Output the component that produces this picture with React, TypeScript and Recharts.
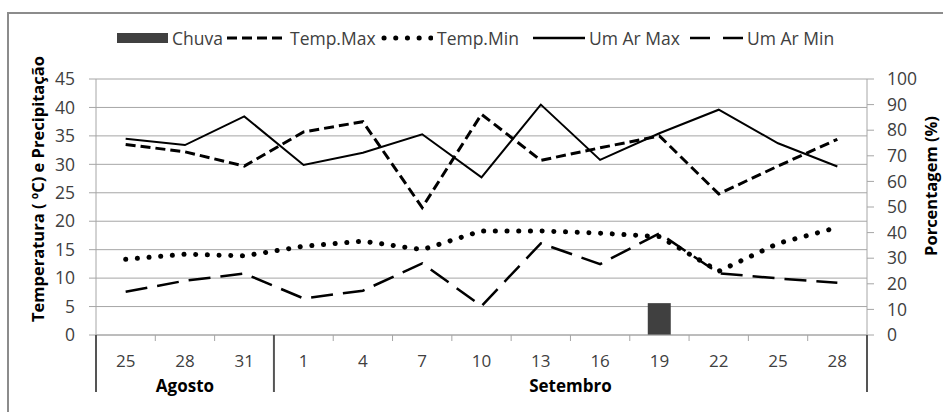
import React from "react";
import {
  ComposedChart,
  Bar,
  Line,
  XAxis,
  YAxis,
  CartesianGrid,
  Label,
} from "recharts";

/* ---------------- Data ---------------- */

const DAYS = ["25", "28", "31", "1", "4", "7", "10", "13", "16", "19", "22", "25", "28"];
const MONTHS = [
  "Agosto", "Agosto", "Agosto",
  "Setembro", "Setembro", "Setembro", "Setembro", "Setembro",
  "Setembro", "Setembro", "Setembro", "Setembro", "Setembro",
];
const CHUVA = [null, null, null, null, null, null, null, null, null, 5.6, null, null, null];
const TEMP_MAX = [33.5, 32.2, 29.7, 35.7, 37.5, 22.4, 38.8, 30.7, 32.9, 35.0, 24.8, 29.7, 34.4];
const TEMP_MIN = [13.3, 14.2, 13.9, 15.6, 16.5, 15.0, 18.3, 18.3, 17.9, 17.3, 11.2, 16.1, 18.9];
const UM_MAX = [76.7, 74.2, 85.4, 66.4, 71.2, 78.4, 61.6, 90.0, 68.4, 78.8, 88.0, 74.9, 65.8];
const UM_MIN = [16.9, 21.2, 24.0, 14.3, 17.3, 28.0, 11.3, 35.8, 27.7, 39.7, 24.1, 22.1, 20.4];

const LEFT_TICKS = [0, 5, 10, 15, 20, 25, 30, 35, 40, 45];
const RIGHT_TICKS = [0, 10, 20, 30, 40, 50, 60, 70, 80, 90, 100];

const data = DAYS.map((d, i) => ({
  day: d,
  month: MONTHS[i],
  chuva: CHUVA[i],
  tempMax: TEMP_MAX[i],
  tempMin: TEMP_MIN[i],
  umMax: UM_MAX[i],
  umMin: UM_MIN[i],
}));

/* ---------------- Layout ---------------- */

const W = 943;
const H = 412;
const LEFT_W = 96;
const RIGHT_W = 76;
const TOP = 79;
const XAXIS_H = 77;
const STEP = (W - LEFT_W - RIGHT_W) / DAYS.length;
const FONT = "'Open Sans', sans-serif";
const GRID = "#a6a6a6";
const TEXT = "#404040";

// day label + Excel style boundary ticks + month groups
function DayTick(props: any) {
  const { x, y, payload, index } = props;
  const i = index as number;
  const month = MONTHS[i];
  const first = MONTHS.indexOf(month);
  const last = MONTHS.lastIndexOf(month);
  const isFirst = i === first;
  const groupCenter = x + ((last - first) / 2 - (i - first)) * STEP;
  return (
    <g>
      <text
        x={x}
        y={y + 25}
        textAnchor="middle"
        dominantBaseline="central"
        fill={TEXT}
        fontSize={17}
        fontFamily={FONT}
      >
        {payload.value}
      </text>
      {!isFirst && (
        <line x1={x - STEP / 2} x2={x - STEP / 2} y1={y} y2={y + 6} stroke={GRID} />
      )}
      {isFirst && (
        <>
          <line x1={x - STEP / 2} x2={x - STEP / 2} y1={y} y2={y + 57} stroke="#555" strokeWidth={2} />
          <text
            x={groupCenter}
            y={y + 50}
            textAnchor="middle"
            dominantBaseline="central"
            fill="#000"
            fontSize={17}
            fontWeight="bold"
            fontFamily={FONT}
          >
            {month}
          </text>
        </>
      )}
      {i === DAYS.length - 1 && (
        <line x1={x + STEP / 2} x2={x + STEP / 2} y1={y} y2={y + 57} stroke="#555" strokeWidth={2} />
      )}
    </g>
  );
}

function LegendIcon({ kind }: { kind: string }) {
  if (kind === "bar") {
    return (
      <svg width={51} height={12} style={{ display: "block" }}>
        <rect x={0} y={1} width={51} height={10} fill="#404040" />
      </svg>
    );
  }
  const dash: Record<string, any> = {
    tempMax: { w: 60, sw: 3, da: "10 5", cap: "butt" },
    tempMin: { w: 52, sw: 5, da: "0.1 11.6", cap: "round" },
    umMax: { w: 52, sw: 2.5, da: undefined, cap: "butt" },
    umMin: { w: 53, sw: 2.5, da: "20 13", cap: "butt" },
  };
  const d = dash[kind];
  return (
    <svg width={d.w} height={12} style={{ display: "block" }}>
      <line
        x1={kind === "tempMin" ? 3 : 0}
        x2={d.w}
        y1={6}
        y2={6}
        stroke="#000"
        strokeWidth={d.sw}
        strokeDasharray={d.da}
        strokeLinecap={d.cap}
      />
    </svg>
  );
}

// icon / text left edges, as in the original legend
const LEGEND = [
  { kind: "bar", label: "Chuva", icon: 117, text: 172 },
  { kind: "tempMax", label: "Temp.Max", icon: 227, text: 290 },
  { kind: "tempMin", label: "Temp.Min", icon: 381, text: 437 },
  { kind: "umMax", label: "Um Ar Max", icon: 533, text: 589 },
  { kind: "umMin", label: "Um Ar Min", icon: 690, text: 747 },
];

export default function App() {
  return (
    <div
      style={{
        position: "fixed",
        left: 0,
        top: 0,
        width: W,
        height: H,
        overflow: "hidden",
        background: "#fff",
        fontFamily: FONT,
      }}
    >
      {/* outer frame */}
      <div
        style={{
          position: "absolute",
          left: 7,
          top: 12,
          width: 1000,
          height: 500,
          border: "2px solid #8c8c8c",
        }}
      />

      {/* Legend */}
      {LEGEND.map((l) => (
        <React.Fragment key={l.kind}>
          <div style={{ position: "absolute", left: l.icon, top: 32 }}>
            <LegendIcon kind={l.kind} />
          </div>
          <div
            style={{
              position: "absolute",
              left: l.text,
              top: 26,
              fontSize: 17.5,
              lineHeight: "24px",
              color: TEXT,
              whiteSpace: "nowrap",
            }}
          >
            {l.label}
          </div>
        </React.Fragment>
      ))}

      <div style={{ position: "absolute", left: 0, top: 0 }}>
        <ComposedChart
          width={W}
          height={H}
          data={data}
          margin={{ top: TOP, right: 0, bottom: 0, left: 0 }}
        >
          <CartesianGrid yAxisId="left" vertical={false} stroke={GRID} />
          <XAxis
            dataKey="day"
            height={XAXIS_H}
            interval={0}
            tickLine={false}
            tickSize={0}
            tickMargin={0}
            axisLine={{ stroke: GRID }}
            tick={<DayTick />}
          />
          <YAxis
            yAxisId="left"
            width={LEFT_W}
            domain={[0, 45]}
            ticks={LEFT_TICKS}
            interval={0}
            tickSize={7}
            tickMargin={14}
            axisLine={{ stroke: GRID }}
            tickLine={{ stroke: GRID }}
            tick={{ fill: TEXT, fontSize: 17.5, fontFamily: FONT }}
          >
            <Label
              content={() => (
                <text
                  transform="translate(37,189) rotate(-90)"
                  textAnchor="middle"
                  dominantBaseline="central"
                  fontSize={16.5}
                  fontWeight="bold"
                  fontFamily={FONT}
                  fill="#000"
                >
                  Temperatura ( ºC) e Precipitação
                </text>
              )}
            />
          </YAxis>
          <YAxis
            yAxisId="right"
            orientation="right"
            width={RIGHT_W}
            domain={[0, 100]}
            ticks={RIGHT_TICKS}
            interval={0}
            tickSize={7}
            tickMargin={13}
            axisLine={{ stroke: GRID }}
            tickLine={{ stroke: GRID }}
            tick={{ fill: TEXT, fontSize: 17.5, fontFamily: FONT, textAnchor: "start" }}
          >
            <Label
              content={() => (
                <text
                  transform="translate(930,186) rotate(-90)"
                  textAnchor="middle"
                  dominantBaseline="central"
                  fontSize={16.5}
                  fontWeight="bold"
                  fontFamily={FONT}
                  fill="#000"
                >
                  Porcentagem (%)
                </text>
              )}
            />
          </YAxis>

          <Bar yAxisId="left" dataKey="chuva" name="Chuva" fill="#404040" barSize={23} isAnimationActive={false} />
          <Line
            yAxisId="left"
            dataKey="tempMax"
            name="Temp.Max"
            stroke="#000"
            strokeWidth={3}
            strokeDasharray="10 5"
            dot={false}
            type="linear"
            isAnimationActive={false}
          />
          <Line
            yAxisId="left"
            dataKey="tempMin"
            name="Temp.Min"
            stroke="#000"
            strokeWidth={5}
            strokeDasharray="0.1 11.6"
            strokeLinecap="round"
            dot={false}
            type="linear"
            isAnimationActive={false}
          />
          <Line
            yAxisId="right"
            dataKey="umMax"
            name="Um Ar Max"
            stroke="#000"
            strokeWidth={2}
            dot={false}
            type="linear"
            isAnimationActive={false}
          />
          <Line
            yAxisId="right"
            dataKey="umMin"
            name="Um Ar Min"
            stroke="#000"
            strokeWidth={2.5}
            strokeDasharray="22 10"
            dot={false}
            type="linear"
            isAnimationActive={false}
          />
        </ComposedChart>
      </div>
    </div>
  );
}
